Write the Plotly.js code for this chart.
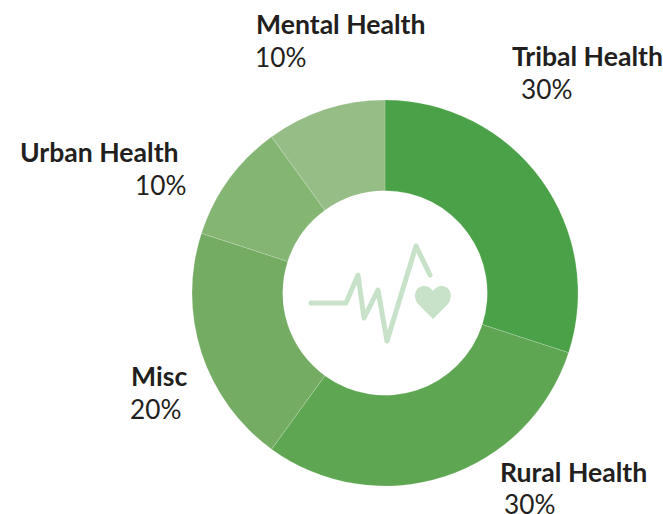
<!DOCTYPE html>
<html><head><meta charset="utf-8">
<script src="https://cdn.plot.ly/plotly-3.0.1.min.js"></script>
<style>html,body{margin:0;padding:0;background:#fff}#c{width:663px;height:514px}
.shapelayer path{stroke-linejoin:round;stroke-linecap:round}</style>
</head><body><div id="c"></div>
<script>
var categories = ["Tribal Health","Rural Health","Misc","Urban Health","Mental Health"];
var shares = [30,30,20,10,10];
var sliceColors = ["#4ba147","#5fa653","#75ac63","#84b573","#96bd86"];
var W=663,H=514;
var nameLeft = [511,499,130,19,255], nameMid = [56,472,376,152,24];
var pctLeft = [520,503,129,134,254], pctMid = [89,504,409,185,57];
function px(x){return x/W} function py(y){return 1-y/H}
var ann=[];
categories.forEach(function(c,i){
  ann.push({text:"<b>"+c+"</b>",x:px(nameLeft[i]),y:py(nameMid[i]),xref:"paper",yref:"paper",xanchor:"left",yanchor:"middle",showarrow:false,borderpad:0,font:{family:"Lato",size:26.6,color:"#231f20"}});
  ann.push({text:shares[i]+"%",x:px(pctLeft[i]),y:py(pctMid[i]),xref:"paper",yref:"paper",xanchor:"left",yanchor:"middle",height:22,showarrow:false,borderpad:0,font:{family:"Lato",size:26.2,color:"#231f20"}});
});
var pulse=[[311,303],[346,303],[358,275],[364,318],[378,290],[387,341],[416,246],[430,275]];
var pulsePath=pulse.map(function(p,i){return (i?"L":"M")+px(p[0])+","+py(p[1])}).join(" ");
function P(x,y){return px(x)+","+py(y)}
var heart="M"+P(433,319)+" L"+P(418,304)+" C"+P(412,296)+" "+P(416,286)+" "+P(424,286)+" C"+P(428,286)+" "+P(431,288)+" "+P(433,291)+" C"+P(435,288)+" "+P(438,286)+" "+P(442,286)+" C"+P(450,286)+" "+P(454,296)+" "+P(448,304)+" Z";
Plotly.newPlot("c",[{
  type:"pie",labels:categories,values:shares,sort:false,direction:"clockwise",rotation:0,hole:0.53,
  textinfo:"none",hoverinfo:"label+percent",showlegend:false,
  marker:{colors:sliceColors,line:{color:"rgba(255,255,255,0.35)",width:0.5}},
  domain:{x:[192/W,578/W],y:[1-486/H,1-100/H]}
}],{
  width:W,height:H,margin:{l:0,r:0,t:0,b:0},paper_bgcolor:"#fff",showlegend:false,
  annotations:ann,
  shapes:[
    {type:"path",xref:"paper",yref:"paper",path:pulsePath,line:{color:"#c8e2ca",width:5},layer:"above"},
    {type:"path",xref:"paper",yref:"paper",path:heart,fillcolor:"#c8e2ca",line:{width:0},layer:"above"}
  ]
},{displayModeBar:false,staticPlot:true});
</script></body></html>
